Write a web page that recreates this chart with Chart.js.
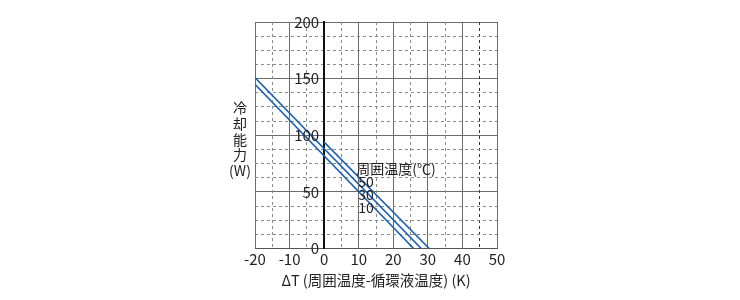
<!DOCTYPE html>
<html>
<head>
<meta charset="utf-8">
<script src="https://cdn.jsdelivr.net/npm/chart.js@4.4.0/dist/chart.umd.min.js"></script>
<style>
html, body { margin: 0; padding: 0; background: #fff; }
#wrap { width: 740px; height: 300px; }
</style>
</head>
<body>
<div id="wrap"><canvas id="c" width="740" height="300"></canvas></div>
<script>
// 周囲温度ごとの冷却能力
const ambientTemps = ['50', '30', '10'];
const dt50 = [0, 30.4];
const cap50 = [94, 0];
const dt30 = [-20, 28.1];
const cap30 = [151, 0];
const dt10 = [-20, 25.9];
const cap10 = [145, 0];

const xTicks = [-20, -10, 0, 10, 20, 30, 40, 50];
const yTicks = [0, 50, 100, 150, 200];
const xMinorTicks = [-15, -5, 5, 15, 25, 35, 45];
const yMinorTicks = [12.5, 25, 37.5, 62.5, 75, 87.5, 112.5, 125, 137.5, 162.5, 175, 187.5];

const yTitle = ['冷', '却', '能', '力', '(W)'];
const xTitle = 'ΔT (周囲温度-循環液温度) (K)';
const legendTitle = '周囲温度(℃)';

const FONT = '"Noto Sans CJK JP", "Noto Sans", sans-serif';
const TEXT = '#222';
const BLUE = '#1f64b4';

function toPoints(xs, ys) {
    return xs.map((x, i) => ({ x: x, y: ys[i] }));
}

function lineSet(label, xs, ys) {
    return {
        label: label,
        data: toPoints(xs, ys),
        showLine: true,
        borderColor: BLUE,
        borderWidth: 1.6,
        pointRadius: 0,
        fill: false
    };
}

// y目盛(ΔT=0の軸の左側)、縦書きの軸タイトル、周囲温度の注記
const textPlugin = {
    id: 'texts',
    afterDraw(chart) {
        const c = chart.ctx;
        const xs = chart.scales.x;
        const ys = chart.scales.y;
        c.save();
        c.fillStyle = TEXT;
        c.textBaseline = 'middle';

        c.font = '15px ' + FONT;
        c.textAlign = 'right';
        const axisX = xs.getPixelForValue(0);
        yTicks.forEach(v => {
            c.fillText(String(v), axisX - 5, ys.getPixelForValue(v));
        });

        c.font = '14px ' + FONT;
        c.textAlign = 'center';
        yTitle.forEach((ch, i) => {
            c.fillText(ch, 240, 108 + i * 15.7);
        });

        c.textAlign = 'left';
        const lx = xs.getPixelForValue(9.3);
        const ly = ys.getPixelForValue(70.2);
        c.fillText(legendTitle, lx, ly);
        ambientTemps.forEach((t, i) => {
            c.fillText(t, lx + 2, ly + 13 * (i + 1));
        });
        c.restore();
    }
};

new Chart(document.getElementById('c'), {
    type: 'scatter',
    data: {
        datasets: [
            lineSet(ambientTemps[0], dt50, cap50),
            lineSet(ambientTemps[1], dt30, cap30),
            lineSet(ambientTemps[2], dt10, cap10)
        ]
    },
    options: {
        responsive: false,
        animation: false,
        layout: { padding: { left: 255, right: 243, top: 22, bottom: 11 } },
        plugins: {
            legend: { display: false },
            tooltip: { enabled: false }
        },
        scales: {
            x: {
                type: 'linear',
                min: -20,
                max: 50,
                afterBuildTicks: s => { s.ticks = xTicks.map(v => ({ value: v })); },
                grid: { color: '#6c6c6c', lineWidth: 1, drawTicks: false },
                border: { color: '#555', width: 1 },
                ticks: { font: { family: FONT, size: 15 }, color: TEXT, padding: 2, maxRotation: 0, autoSkip: false },
                title: { display: true, text: xTitle, font: { family: FONT, size: 14.5 }, color: TEXT, padding: { top: 1, bottom: 0 } }
            },
            y: {
                type: 'linear',
                min: 0,
                max: 200,
                position: { x: 0 },
                afterBuildTicks: s => { s.ticks = yTicks.map(v => ({ value: v })); },
                grid: { color: '#6c6c6c', lineWidth: 1, drawTicks: false },
                border: { color: '#111', width: 2 },
                ticks: { display: false }
            },
            x2: {
                type: 'linear',
                axis: 'x',
                position: 'top',
                min: -20,
                max: 50,
                afterBuildTicks: s => { s.ticks = xMinorTicks.map(v => ({ value: v })); },
                ticks: { display: false },
                grid: {
                    drawTicks: false,
                    color: ctx => (ctx.tick && ctx.tick.value === 45) ? '#333' : '#8a8a8a',
                    lineWidth: 1
                },
                border: { display: false, dash: [3, 3] }
            },
            y2: {
                type: 'linear',
                axis: 'y',
                position: 'right',
                min: 0,
                max: 200,
                afterBuildTicks: s => { s.ticks = yMinorTicks.map(v => ({ value: v })); },
                ticks: { display: false },
                grid: { drawTicks: false, color: '#8a8a8a', lineWidth: 1 },
                border: { display: false, dash: [3, 3] }
            }
        }
    },
    plugins: [textPlugin]
});
</script>
</body>
</html>
